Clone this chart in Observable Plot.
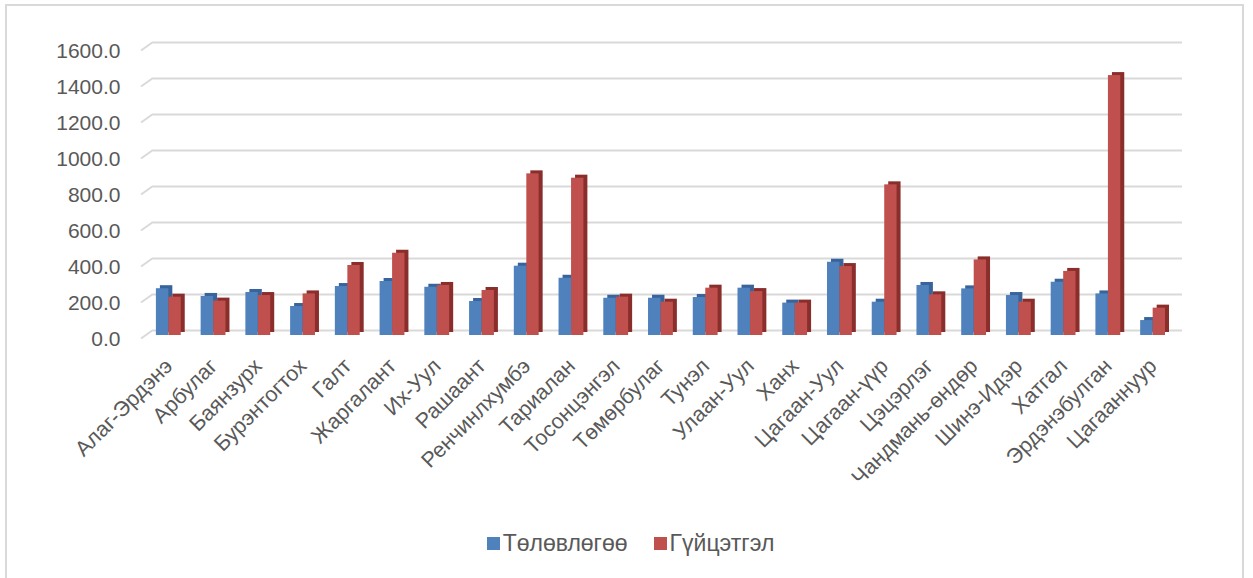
<!DOCTYPE html>
<html>
<head>
<meta charset="utf-8">
<script src="https://cdn.jsdelivr.net/npm/d3@7"></script>
<script src="https://cdn.jsdelivr.net/npm/@observablehq/plot@0.6"></script>
<style>
  html, body { margin: 0; padding: 0; background: #fff; }
  #wrap { position: relative; width: 1253px; height: 578px; overflow: hidden; font-family: "Liberation Sans", Arial, sans-serif; }
  #frame { position: absolute; left: 5px; top: 4px; width: 1239px; height: 620px; border: 2px solid #d9d9d9; border-bottom: none; box-sizing: border-box; }
  #chart { position: absolute; left: 0; top: 0; }
  #legend { position: absolute; top: 530px; left: 0; width: 1253px; display: flex; justify-content: center; gap: 26px; font-size: 23px; color: #595959; padding-left: 8px; box-sizing: border-box; }
  .item { display: flex; align-items: center; gap: 3px; }
  .sw { width: 13px; height: 13px; display: inline-block; }
</style>
</head>
<body>
<div id="wrap">
  <div id="frame"></div>
  <div id="chart"></div>
  <div id="legend"></div>
</div>
<script>
const categories = ["Алаг-Эрдэнэ","Арбулаг","Баянзурх","Бурэнтогтох","Галт","Жаргалант","Их-Уул","Рашаант","Ренчинлхумбэ","Тариалан","Тосонцэнгэл","Төмөрбулаг","Тунэл","Улаан-Уул","Ханх","Цагаан-Уул","Цагаан-үүр","Цэцэрлэг","Чандмань-өндөр","Шинэ-Идэр","Хатгал","Эрдэнэбулган","Цагааннуур"];
const plan   = [260, 217, 239, 161, 272, 300, 268, 189, 385, 318, 207, 207, 211, 263, 180, 407, 185, 278, 259, 222, 296, 231, 83];
const actual = [213, 191, 222, 231, 389, 457, 278, 250, 898, 874, 213, 185, 263, 244, 180, 383, 837, 226, 420, 185, 356, 1444, 152];
const yTicks = [0, 200, 400, 600, 800, 1000, 1200, 1400, 1600];
const seriesNames = ["Төлөвлөгөө", "Гүйцэтгэл"];
const seriesColors = ["#4f81bd", "#c0504d"];
const seriesDark = ["#39639b", "#8a2e2c"];

const data = categories.map((c, i) => ({cat: c, plan: plan[i], actual: actual[i]}));

const mL = 146, mT = 47, W = 1253, H = 500;
const plot = Plot.plot({
  width: W, height: H,
  marginLeft: mL, marginRight: 78, marginTop: mT, marginBottom: 165,
  style: {fontFamily: "'Liberation Sans', Arial, sans-serif", background: "transparent"},
  x: {domain: categories, padding: 0, round: false, axis: null},
  y: {domain: [0, 1600], axis: null},
  marks: [
    Plot.ruleY(yTicks, {stroke: "#d9d9d9", strokeWidth: 2, dx: 7, dy: -5}),
    Plot.barY(data, {x: "cat", y: "plan", fill: seriesDark[0], insetLeft: 9.9, insetRight: 22.4, dx: 4, dy: -3}),
    Plot.barY(data, {x: "cat", y: "actual", fill: seriesDark[1], insetLeft: 22.4, insetRight: 10, dx: 4, dy: -3}),
    Plot.barY(data, {x: "cat", y: "plan", fill: seriesColors[0], insetLeft: 9.9, insetRight: 22.4}),
    Plot.barY(data, {x: "cat", y: "actual", fill: seriesColors[1], insetLeft: 22.4, insetRight: 10}),
    Plot.axisY(yTicks, {tickFormat: d => d.toFixed(1), tickSize: 0, tickPadding: 26, fontSize: 21, fill: "#595959", dy: 4, label: null}),
    Plot.axisX({tickRotate: -45, tickSize: 0, tickPadding: 27, fontSize: 21.5, fill: "#595959", label: null})
  ]
});

// short diagonal wall edges at the left end of each gridline
const ys = plot.scale("y");
const g = d3.select(plot).insert("g", ":first-child");
yTicks.forEach(v => {
  const yy = ys.apply(v);
  g.append("line").attr("x1", mL - 5).attr("y1", yy + 3.5).attr("x2", mL + 7).attr("y2", yy - 5)
    .attr("stroke", "#d9d9d9").attr("stroke-width", 2);
});

document.getElementById("chart").appendChild(plot);

const legend = document.getElementById("legend");
seriesNames.forEach((n, i) => {
  const it = document.createElement("span");
  it.className = "item";
  it.innerHTML = `<span class="sw" style="background:${seriesColors[i]}"></span><span>${n}</span>`;
  legend.appendChild(it);
});
</script>
</body>
</html>
